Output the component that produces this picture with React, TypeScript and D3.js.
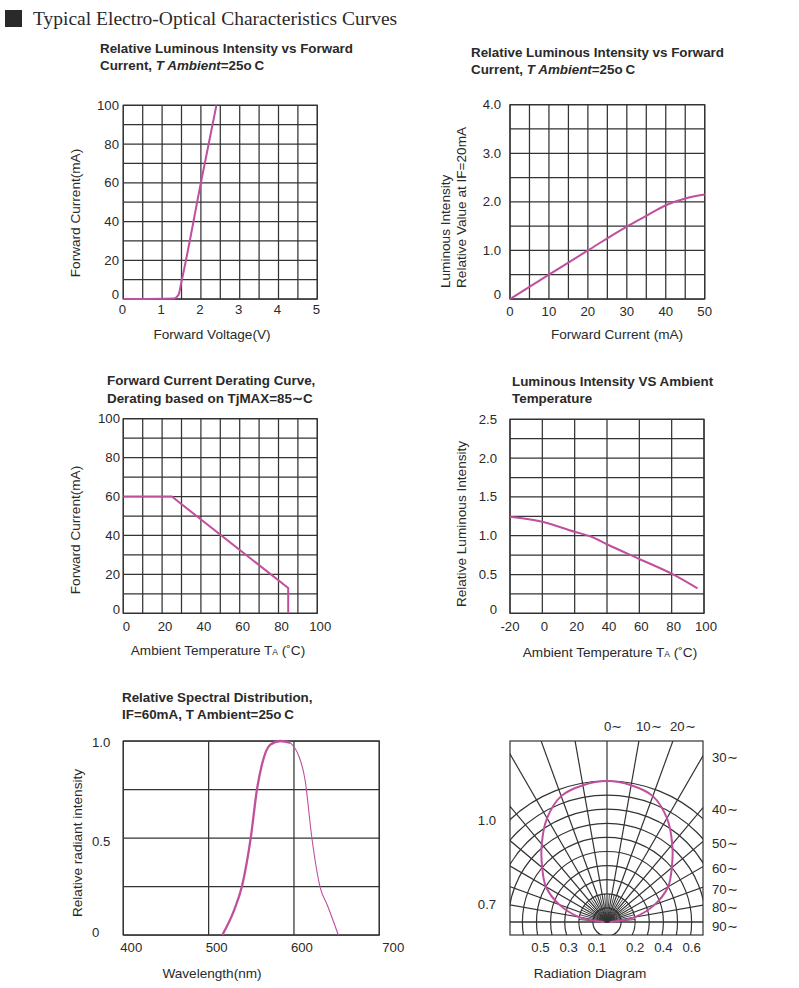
import React from 'react';
import * as d3 from 'd3';

// ---------- DATA ----------
// Panel 1: Forward current vs forward voltage
const ivVoltage = [0, 1.3, 1.42, 1.5, 2.0, 2.4];
const ivCurrent = [0, 0.3, 2, 9, 60, 100];
const ivXTicks = [0, 1, 2, 3, 4, 5];
const ivYTicks = [0, 20, 40, 60, 80, 100];

// Panel 2: Relative luminous intensity vs forward current
const liCurrent = [0, 10, 20, 30, 35, 40, 45, 50];
const liValue = [0, 0.5, 1.0, 1.49, 1.71, 1.93, 2.07, 2.15];
const liXTicks = [0, 10, 20, 30, 40, 50];
const liYTicks = [0, 1, 2, 3, 4];

// Panel 3: Forward current derating curve
const drTemp = [0, 25, 85, 85];
const drCurrent = [60, 60, 13, 0];
const drXTicks = [0, 20, 40, 60, 80, 100];
const drYTicks = [0, 20, 40, 60, 80, 100];

// Panel 4: Luminous intensity vs ambient temperature
const ltTemp = [-20, 0, 20, 30, 40, 60, 80, 96];
const ltValue = [1.245, 1.18, 1.05, 0.99, 0.89, 0.7, 0.51, 0.32];
const ltXTicks = [-20, 0, 20, 40, 60, 80, 100];
const ltYTicks = [0, 0.5, 1.0, 1.5, 2.0, 2.5];

// Panel 5: Relative spectral distribution
const spWave = [516, 530, 539, 549, 557, 562, 572, 584, 596, 604, 613, 621, 631, 639, 652];
const spValue = [0, 0.13, 0.25, 0.49, 0.76, 0.87, 0.98, 1.0, 0.99, 0.94, 0.8, 0.5, 0.24, 0.155, 0];
const spXTicks = [400, 500, 600, 700];
const spYTicks = [0, 0.5, 1.0];

// Panel 6: Radiation diagram
const radAngle = [0, 10, 20, 30, 40, 50, 60, 70, 80, 90];
const radValue = [1.0, 0.985, 0.95, 0.85, 0.72, 0.6, 0.5, 0.36, 0.2, 0.02];
const radCircles = [0.1, 0.2, 0.3, 0.4, 0.5, 0.6, 0.7, 0.8, 0.9, 1.0];
const radSpokes = [-90, -80, -70, -60, -50, -40, -30, -20, -10, 0, 10, 20, 30, 40, 50, 60, 70, 80, 90];
const radInnerSpokes = [-85, -75, -65, -55, -45, -35, -25, -15, -5, 5, 15, 25, 35, 45, 55, 65, 75, 85];
const radTopLabels = [0, 10, 20];
const radRightLabels = [30, 40, 50, 60, 70, 80, 90];
const radLeftLabels = [1.0, 0.7];
const radBottomLeft = [0.5, 0.3, 0.1];
const radBottomRight = [0.2, 0.4, 0.6];

// ---------- STYLE ----------
const FONT = "'Liberation Sans', Arial, Helvetica, sans-serif";
const INK = '#2a2a2a';
const GRID = '#333';
const PINK = '#c04f9e';

type Box = { x0: number; x1: number; y0: number; y1: number };

function Grid({ box, xs, ys, xStep, yStep }: any) {
  const xd = xs.domain();
  const yd = ys.domain();
  const xv = d3.range(xd[0], xd[1] + xStep / 2, xStep);
  const yv = d3.range(yd[0], yd[1] + yStep / 2, yStep);
  return (
    <g stroke={GRID} strokeWidth={1.25} fill="none">
      {xv.map((v: number, i: number) => (
        <line key={'x' + i} x1={xs(v)} x2={xs(v)} y1={box.y0} y2={box.y1} />
      ))}
      {yv.map((v: number, i: number) => (
        <line key={'y' + i} x1={box.x0} x2={box.x1} y1={ys(v)} y2={ys(v)} />
      ))}
      <rect x={box.x0} y={box.y0} width={box.x1 - box.x0} height={box.y1 - box.y0} />
    </g>
  );
}

function zip(a: number[], b: number[]): [number, number][] {
  return a.map((v, i) => [v, b[i]]);
}

const tickStyle = { fontFamily: FONT, fontSize: 13.2, fill: INK } as const;
const titleStyle = { fontFamily: FONT, fontSize: 13.4, fontWeight: 700, fill: INK } as const;
const axisStyle = { fontFamily: FONT, fontSize: 13.6, fill: INK } as const;

export default function App() {
  // Panel 1
  const b1: Box = { x0: 123.3, x1: 317.3, y0: 105.3, y1: 299 };
  const x1s = d3.scaleLinear().domain([0, 5]).range([b1.x0, b1.x1]);
  const y1s = d3.scaleLinear().domain([0, 100]).range([b1.y1, b1.y0]);
  const line1 = d3.line<[number, number]>().x(d => x1s(d[0])).y(d => y1s(d[1])).curve(d3.curveMonotoneX);

  // Panel 2
  const b2: Box = { x0: 510, x1: 704.7, y0: 104.7, y1: 299 };
  const x2s = d3.scaleLinear().domain([0, 50]).range([b2.x0, b2.x1]);
  const y2s = d3.scaleLinear().domain([0, 4]).range([b2.y1, b2.y0]);
  const line2 = d3.line<[number, number]>().x(d => x2s(d[0])).y(d => y2s(d[1])).curve(d3.curveMonotoneX);

  // Panel 3
  const b3: Box = { x0: 123.3, x1: 317.3, y0: 418.7, y1: 613.3 };
  const x3s = d3.scaleLinear().domain([0, 100]).range([b3.x0, b3.x1]);
  const y3s = d3.scaleLinear().domain([0, 100]).range([b3.y1, b3.y0]);
  const line3 = d3.line<[number, number]>().x(d => x3s(d[0])).y(d => y3s(d[1]));

  // Panel 4
  const b4: Box = { x0: 510, x1: 704, y0: 419.3, y1: 613.3 };
  const x4s = d3.scaleLinear().domain([-20, 100]).range([b4.x0, b4.x1]);
  const y4s = d3.scaleLinear().domain([0, 2.5]).range([b4.y1, b4.y0]);
  const line4 = d3.line<[number, number]>().x(d => x4s(d[0])).y(d => y4s(d[1])).curve(d3.curveMonotoneX);

  // Panel 5
  const b5: Box = { x0: 123.3, x1: 379.3, y0: 741, y1: 935 };
  const x5s = d3.scaleLinear().domain([400, 700]).range([b5.x0, b5.x1]);
  const y5s = d3.scaleLinear().domain([0, 1]).range([b5.y1, b5.y0]);
  const line5 = d3.line<[number, number]>().x(d => x5s(d[0])).y(d => y5s(d[1])).curve(d3.curveMonotoneX);
  const sp = zip(spWave, spValue);
  const spPeak = 8;

  // Panel 6
  const b6: Box = { x0: 510, x1: 703, y0: 741, y1: 935 };
  const cx = 607, cy = 922;
  const rs = d3.scaleLinear().domain([0, 1]).range([0, 141]);
  const radPts: [number, number][] = [
    ...radAngle.slice().reverse().map((a, i) => [-a, radValue[radAngle.length - 1 - i]] as [number, number]),
    ...radAngle.slice(1).map((a, i) => [a, radValue[i + 1]] as [number, number]),
  ];
  const radLine = d3
    .lineRadial<[number, number]>()
    .angle(d => (d[0] * Math.PI) / 180)
    .radius(d => rs(d[1]))
    .curve(d3.curveCatmullRom);
  const spokeEnd = (a: number, L: number) => [cx + L * Math.sin((a * Math.PI) / 180), cy - L * Math.cos((a * Math.PI) / 180)];

  const fmt1 = (v: number) => (v === 0 ? '0' : v.toFixed(1));

  return (
    <svg width={799} height={988} viewBox="0 0 799 988" style={{ position: 'absolute', left: 0, top: 0, background: '#fff' }}>
      <rect x={0} y={0} width={799} height={988} fill="#fff" />
      {/* Header */}
      <rect x={5} y={10} width={17} height={17} fill="#2a2a2a" />
      <text x={33} y={25} style={{ fontFamily: "'Liberation Serif', 'Times New Roman', serif", fontSize: 19.5, fill: INK }}>
        Typical Electro-Optical Characteristics Curves
      </text>

      {/* ===== Panel 1 ===== */}
      <text x={100} y={53} style={titleStyle}>Relative Luminous Intensity vs Forward</text>
      <text x={100} y={70} style={titleStyle}>
        <tspan>Current, </tspan>
        <tspan fontStyle="italic">T Ambient</tspan>
        <tspan>=25o{'\u2009'}C</tspan>
      </text>
      <Grid box={b1} xs={x1s} ys={y1s} xStep={0.5} yStep={10} />
      <path d={line1(zip(ivVoltage, ivCurrent)) || ''} fill="none" stroke={PINK} strokeWidth={2} />
      {ivYTicks.map(v => (
        <text key={v} x={119} y={y1s(v) + (v === 0 ? -5 : 0)} textAnchor="end" dominantBaseline="central" style={tickStyle}>{v}</text>
      ))}
      {ivXTicks.map(v => (
        <text key={v} x={x1s(v) - 1} y={314} textAnchor="middle" style={tickStyle}>{v}</text>
      ))}
      <text x={212} y={339} textAnchor="middle" style={axisStyle}>Forward Voltage(V)</text>
      <text transform="translate(80,213) rotate(-90)" textAnchor="middle" style={axisStyle}>Forward Current(mA)</text>

      {/* ===== Panel 2 ===== */}
      <text x={471} y={57} style={titleStyle}>Relative Luminous Intensity vs Forward</text>
      <text x={471} y={74} style={titleStyle}>
        <tspan>Current, </tspan>
        <tspan fontStyle="italic">T Ambient</tspan>
        <tspan>=25o{'\u2009'}C</tspan>
      </text>
      <Grid box={b2} xs={x2s} ys={y2s} xStep={5} yStep={0.5} />
      <path d={line2(zip(liCurrent, liValue)) || ''} fill="none" stroke={PINK} strokeWidth={2} />
      {liYTicks.map(v => (
        <text key={v} x={501} y={y2s(v) + (v === 0 ? -5 : 0)} textAnchor="end" dominantBaseline="central" style={tickStyle}>{fmt1(v)}</text>
      ))}
      {liXTicks.map(v => (
        <text key={v} x={x2s(v)} y={316} textAnchor="middle" style={tickStyle}>{v}</text>
      ))}
      <text x={617} y={339} textAnchor="middle" style={axisStyle}>Forward Current (mA)</text>
      <text transform="translate(450,288) rotate(-90)" textAnchor="start" style={axisStyle}>Luminous Intensity</text>
      <text transform="translate(466,288) rotate(-90)" textAnchor="start" style={axisStyle}>Relative Value at IF=20mA</text>

      {/* ===== Panel 3 ===== */}
      <text x={107} y={385} style={titleStyle}>Forward Current Derating Curve,</text>
      <text x={107} y={403} style={titleStyle}>Derating based on TjMAX=85∼C</text>
      <Grid box={b3} xs={x3s} ys={y3s} xStep={10} yStep={10} />
      <path d={line3(zip(drTemp, drCurrent)) || ''} fill="none" stroke={PINK} strokeWidth={2} />
      {drYTicks.map(v => (
        <text key={v} x={120} y={y3s(v) + (v === 0 ? -4 : 0)} textAnchor="end" dominantBaseline="central" style={tickStyle}>{v}</text>
      ))}
      {drXTicks.map(v => (
        <text key={v} x={x3s(v) + 3} y={631} textAnchor="middle" style={tickStyle}>{v}</text>
      ))}
      <text x={218} y={655} textAnchor="middle" style={axisStyle}>
        Ambient Temperature T<tspan fontSize={8.5}>A</tspan> (˚C)
      </text>
      <text transform="translate(80,530) rotate(-90)" textAnchor="middle" style={axisStyle}>Forward Current(mA)</text>

      {/* ===== Panel 4 ===== */}
      <text x={512} y={386} style={titleStyle}>Luminous Intensity VS Ambient</text>
      <text x={512} y={403} style={titleStyle}>Temperature</text>
      <Grid box={b4} xs={x4s} ys={y4s} xStep={20} yStep={0.25} />
      <path d={line4(zip(ltTemp, ltValue)) || ''} fill="none" stroke={PINK} strokeWidth={2} />
      {ltYTicks.map(v => (
        <text key={v} x={497} y={y4s(v) + (v === 0 ? -4 : 0)} textAnchor="end" dominantBaseline="central" style={tickStyle}>{fmt1(v)}</text>
      ))}
      {ltXTicks.map(v => (
        <text key={v} x={x4s(v) + (v === -20 ? 0 : 2)} y={631} textAnchor="middle" style={tickStyle}>{v}</text>
      ))}
      <text x={610} y={657} textAnchor="middle" style={axisStyle}>
        Ambient Temperature T<tspan fontSize={8.5}>A</tspan> (˚C)
      </text>
      <text transform="translate(466,524) rotate(-90)" textAnchor="middle" style={axisStyle}>Relative Luminous Intensity</text>

      {/* ===== Panel 5 ===== */}
      <text x={122} y={702} style={titleStyle}>Relative Spectral Distribution,</text>
      <text x={122} y={719} style={titleStyle}>IF=60mA, T Ambient=25o{'\u2009'}C</text>
      <Grid box={b5} xs={x5s} ys={y5s} xStep={100} yStep={0.25} />
      <path d={line5(sp.slice(0, spPeak + 1)) || ''} fill="none" stroke={PINK} strokeWidth={2.3} />
      <path d={line5(sp.slice(spPeak)) || ''} fill="none" stroke={PINK} strokeWidth={1.1} />
      {spYTicks.map(v => (
        <text key={v} x={92} y={y5s(v) + (v === 0 ? -3 : v === 0.5 ? 3 : 1)} textAnchor="start" dominantBaseline="central" style={tickStyle}>{fmt1(v)}</text>
      ))}
      {spXTicks.map(v => (
        <text key={v} x={x5s(v) + (v === 700 ? 14 : 8)} y={952} textAnchor="middle" style={tickStyle}>{v}</text>
      ))}
      <text x={212} y={978} textAnchor="middle" style={axisStyle}>Wavelength(nm)</text>
      <text transform="translate(82,843) rotate(-90)" textAnchor="middle" style={axisStyle}>Relative radiant intensity</text>

      {/* ===== Panel 6 ===== */}
      <defs>
        <clipPath id="radClip">
          <rect x={b6.x0} y={b6.y0} width={b6.x1 - b6.x0} height={b6.y1 - b6.y0} />
        </clipPath>
      </defs>
      <g clipPath="url(#radClip)" stroke={GRID} strokeWidth={1.2} fill="none">
        {radCircles.map(v => (
          <circle key={v} cx={cx} cy={cy} r={rs(v)} />
        ))}
        {radSpokes.map(a => {
          const [ex, ey] = spokeEnd(a, 400);
          return <line key={a} x1={cx} y1={cy} x2={ex} y2={ey} />;
        })}
        {radInnerSpokes.map(a => {
          const [ex, ey] = spokeEnd(a, rs(0.2));
          return <line key={'i' + a} x1={cx} y1={cy} x2={ex} y2={ey} strokeWidth={0.9} />;
        })}
        <line x1={b6.x0} x2={b6.x1} y1={cy} y2={cy} />
      </g>
      <rect x={b6.x0} y={b6.y0} width={b6.x1 - b6.x0} height={b6.y1 - b6.y0} fill="none" stroke={GRID} strokeWidth={1.2} />
      <path d={radLine(radPts) || ''} transform={`translate(${cx},${cy})`} fill="none" stroke={PINK} strokeWidth={2} />
      {radTopLabels.map(a => {
        const x = cx + (cy - b6.y0) * Math.tan((a * Math.PI) / 180);
        return <text key={a} x={x - 3} y={731} style={tickStyle}>{a}∼</text>;
      })}
      {radRightLabels.map(a => {
        const y = cy - (b6.x1 - cx) / Math.tan((a * Math.PI) / 180 || 1e-9);
        return <text key={a} x={712} y={a === 90 ? cy + 4 : y + 2} dominantBaseline="central" style={tickStyle}>{a}∼</text>;
      })}
      {radLeftLabels.map(v => {
        const r = rs(v);
        const y = cy - Math.sqrt(Math.max(0, r * r - (cx - b6.x0) * (cx - b6.x0)));
        return <text key={v} x={487} y={y + 1} textAnchor="middle" dominantBaseline="central" style={tickStyle}>{v.toFixed(1)}</text>;
      })}
      {radBottomLeft.map(v => (
        <text key={'l' + v} x={cx - rs(v) + 4} y={952} textAnchor="middle" style={tickStyle}>{v}</text>
      ))}
      {radBottomRight.map(v => (
        <text key={'r' + v} x={cx + rs(v)} y={952} textAnchor="middle" style={tickStyle}>{v}</text>
      ))}
      <text x={590} y={978} textAnchor="middle" style={axisStyle}>Radiation Diagram</text>
    </svg>
  );
}
